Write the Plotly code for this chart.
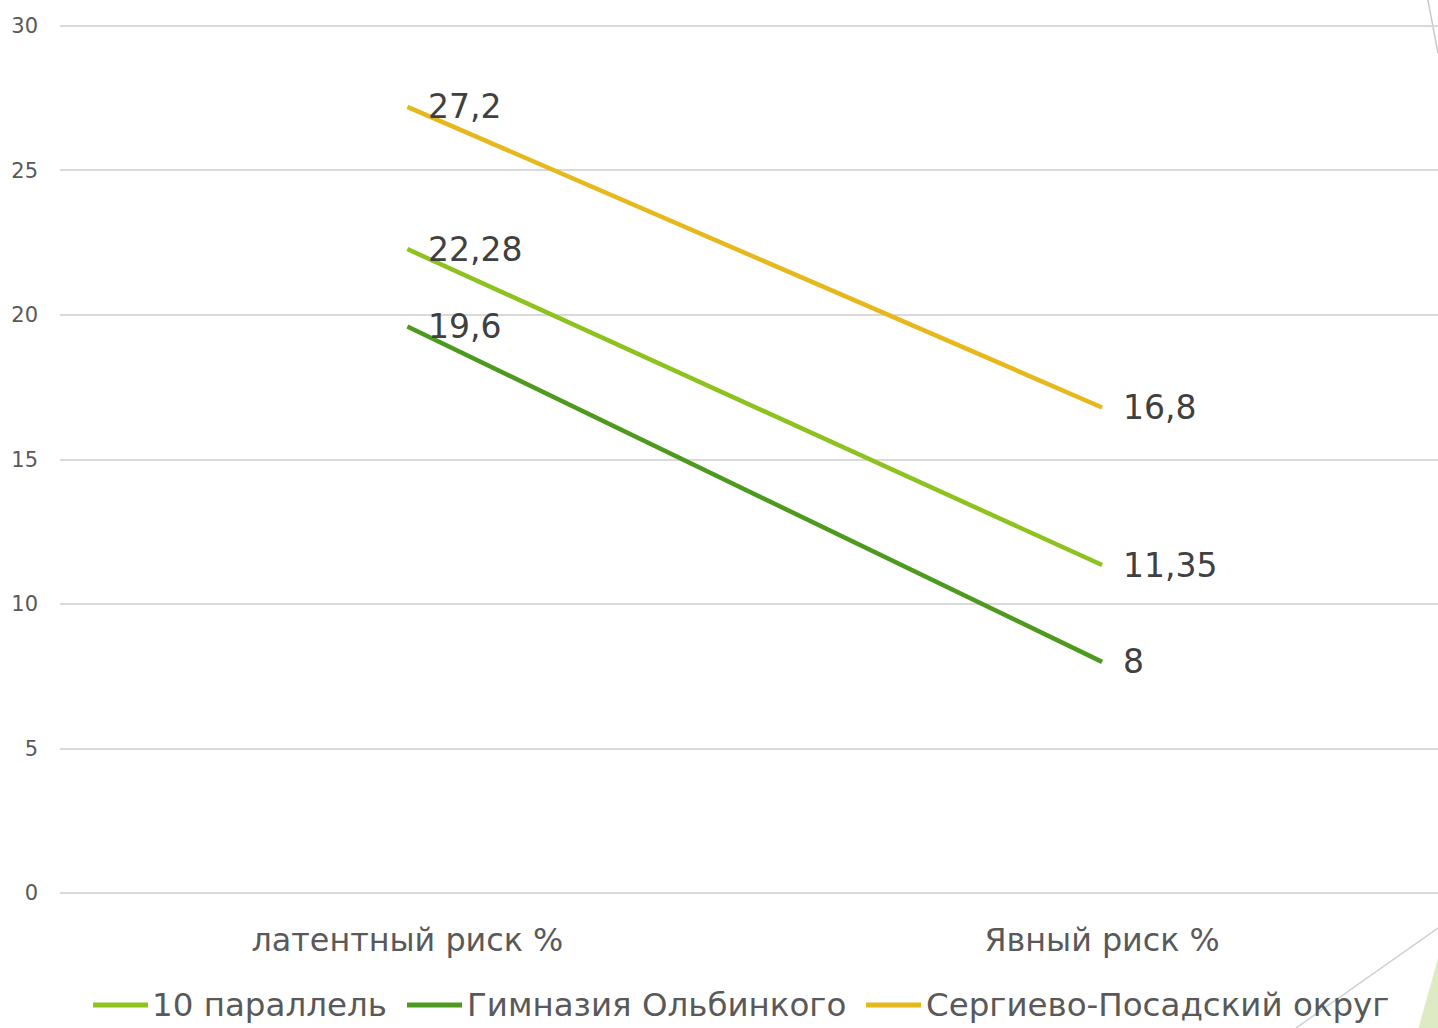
import plotly.graph_objects as go

categories = ["латентный риск %", "Явный риск %"]
series_names = ["10 параллель", "Гимназия Ольбинкого", "Сергиево-Посадский округ"]
values_10 = [22.28, 11.35]
values_gym = [19.6, 8]
values_okrug = [27.2, 16.8]
labels_10 = ["22,28", "11,35"]
labels_gym = ["19,6", "8"]
labels_okrug = ["27,2", "16,8"]
colors = ["#8DC21F", "#4E9A1E", "#E6B81C"]
y_ticks = [0, 5, 10, 15, 20, 25, 30]

W, H = 1438, 1028
L, R, T, B = 60, 0, 23, 132
FONT = "DejaVu Sans"

fig = go.Figure()
annotations = []
for name, vals, labs, col in zip(series_names, [values_10, values_gym, values_okrug],
                                 [labels_10, labels_gym, labels_okrug], colors):
    fig.add_trace(go.Scatter(
        x=categories, y=vals, name=name, mode="lines",
        line=dict(color=col, width=4.5),
        showlegend=False,
    ))
    for c, v, t in zip(categories, vals, labs):
        annotations.append(dict(x=c, y=v, xref="x", yref="y", text=t, showarrow=False,
                                xanchor="left", yanchor="middle", xshift=19,
                                font=dict(family=FONT, size=33, color="#404040")))

def px2paper(px, py):
    return (px - L) / (W - L - R), (H - B - py) / (H - T - B)

shapes = []
x0, y0 = px2paper(1426, -10); x1, y1 = px2paper(1438, 53)
shapes.append(dict(type="line", xref="paper", yref="paper", x0=x0, y0=y0, x1=x1, y1=y1,
                   line=dict(color="#C8C8C8", width=1.5), layer="below"))
x0, y0 = px2paper(1296, 1028); x1, y1 = px2paper(1438, 928)
shapes.append(dict(type="line", xref="paper", yref="paper", x0=x0, y0=y0, x1=x1, y1=y1,
                   line=dict(color="#D0D0D0", width=1.5), layer="below"))
pa = px2paper(1418, 1030); pb = px2paper(1438, 958); pc = px2paper(1440, 1030)
shapes.append(dict(type="path", xref="paper", yref="paper",
                   path=f"M {pa[0]} {pa[1]} L {pb[0]} {pb[1]} L {pc[0]} {pc[1]} Z",
                   fillcolor="#DDEBC4", line=dict(width=0), layer="below"))

# custom legend (line swatch + label)
legend_line_x = [93, 407, 866]
legend_text_x = [150, 465, 924]
legend_y = 1005
for name, col, lx, tx in zip(series_names, colors, legend_line_x, legend_text_x):
    a = px2paper(lx, legend_y)
    b = px2paper(lx + 55, legend_y)
    shapes.append(dict(type="line", xref="paper", yref="paper", x0=a[0], y0=a[1], x1=b[0], y1=b[1],
                       line=dict(color=col, width=5)))
    t = px2paper(tx, legend_y)
    annotations.append(dict(x=t[0], y=t[1], xref="paper", yref="paper", text=name,
                            showarrow=False, xanchor="left", yanchor="middle",
                            font=dict(family=FONT, size=32.5, color="#595959")))

fig.update_layout(
    width=W, height=H,
    margin=dict(l=L, r=R, t=T, b=B),
    paper_bgcolor="white", plot_bgcolor="white",
    font=dict(family=FONT, color="#595959"),
    showlegend=False,
    hovermode=False,
    xaxis=dict(type="category", range=[-0.5, 1.4835], showgrid=False, zeroline=False,
               showline=False, ticks="", tickfont=dict(family=FONT, size=31.8, color="#595959"),
               ticklabelstandoff=22),
    yaxis=dict(range=[-0.1, 30.1], tickvals=y_ticks, showgrid=True, gridcolor="#D9D9D9",
               gridwidth=1.5, zeroline=True, zerolinecolor="#D9D9D9", zerolinewidth=1.5,
               showline=False, ticks="",
               tickfont=dict(family=FONT, size=21, color="#595959"), ticklabelstandoff=21),
    shapes=shapes,
    annotations=annotations,
)

fig.write_html("out.html", config={"displayModeBar": False},
               post_script="document.body.style.margin='0';document.body.style.overflow='hidden';")
